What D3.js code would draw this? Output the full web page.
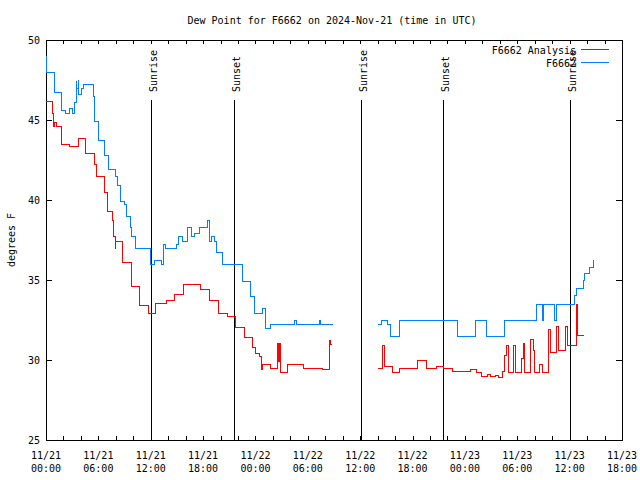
<!DOCTYPE html>
<html><head><meta charset="utf-8">
<script src="https://cdn.jsdelivr.net/npm/d3@7"></script>
<style>
body{margin:0;background:#fff}
text{font-family:"DejaVu Sans Mono","Liberation Mono",monospace;font-size:10px;fill:#000}
</style>
</head><body>
<svg id="c" width="640" height="480"></svg>
<script>
// hours since 2024-11-21 00:00 UTC
const analysisT1 = [0,0.72,0.84,1.03,1.23,1.72,2.67,3.7,4.58,5.53,5.73,6.7,7.02,7.64,7.79,7.91,8.02,8.79,9.82,10.77,11.72,12.6,13.83,14.78,15.73,17.65,18.71,19.74,20.77,21.66,22.69,23.68,23.95,24.52,24.72,24.83,25.67,26.5,26.62,26.73,26.85,27.65,29.56,31.7,32.54,32.65,32.8];
const analysisV1 = [46.15,45.4,44.6,44.85,44.6,43.45,43.35,43.85,42.9,42.2,41.45,40.5,39.3,38.75,37.7,36.98,37.4,36.1,34.6,33.4,32.9,33.55,33.75,34.1,34.7,34.4,33.75,32.9,32.75,32.05,31.4,30.8,30.4,30.2,29.4,29.7,29.5,31.05,29.9,31.05,29.2,29.7,29.5,29.4,31.2,31.0,31.0];
const analysisT2 = [38.08,38.58,38.73,38.84,39.65,40.56,42.55,43.63,44.77,45.53,46.6,48.66,49.35,49.92,50.61,50.88,51.45,51.8,52.33,52.48,52.71,52.97,53.55,53.8,54.43,54.7,54.81,55.54,55.81,55.92,56.53,56.84,57.56,57.83,58.52,58.75,59.47,59.74,60.73,60.9,61.65];
const analysisV2 = [29.5,30.9,30.2,29.6,29.2,29.5,30.0,29.5,29.6,29.5,29.3,29.4,29.2,29.0,29.1,28.95,29.05,28.9,29.3,30.3,30.9,29.25,30.9,29.25,30.1,31.05,29.25,31.3,30.6,29.25,29.7,29.25,31.9,30.5,32.1,30.6,32.1,30.9,33.45,31.55,31.55];

const obsT1 = [0,0.1,0.97,1.83,2.29,2.64,2.98,3.21,3.44,3.55,3.67,3.78,4.07,4.35,5.39,5.61,6.07,6.65,7.14,8.02,8.17,8.56,8.94,9.17,9.63,9.82,10.28,12.03,12.38,13.26,13.44,13.64,15.01,15.16,15.66,16.19,16.7,17.07,17.57,18.48,18.71,18.99,19.25,19.48,20.2,22.54,23.38,23.87,24.83,25.1,25.67,28.53,28.65,31.32,31.45,32.83];
const obsV1 = [49,48,46.7,45.6,45.4,45.75,45.4,46.1,47.4,47.0,47.5,46.6,47.0,47.25,46.5,44.9,43.75,42.8,41.9,41.45,40.9,39.9,39.7,38.95,38.3,37.7,37.0,35.95,36.25,35.95,37.2,37.0,37.2,37.7,37.4,38.3,37.7,37.9,38.3,38.7,37.4,37.7,37.4,36.7,35.95,34.9,33.95,32.9,33.2,32.0,32.25,32.45,32.25,32.45,32.25,32.25];
const obsT2 = [38.08,38.47,39.11,39.42,39.8,40.56,47.1,49.24,50.42,52.54,56.15,56.9,57.0,58.21,58.55,60.61,60.81,61.57,61.76,62.33,62.68,62.8];
const obsV2 = [32.25,32.45,32.25,31.45,31.5,32.45,31.5,32.45,31.5,32.45,33.5,32.5,33.5,32.5,33.5,34.06,34.5,35.0,35.4,35.8,36.25,36.25];

const sunT = [12.1, 21.58, 36.17, 45.52, 60.12];
const sunLabels = ["Sunrise","Sunset","Sunrise","Sunset","Sunrise"];
const yTicks = [25,30,35,40,45,50];
const seriesNames = ["F6662 Analysis","F6662"];
const seriesColors = ["#ff0000","#0080ff"];
const title = "Dew Point for F6662 on 2024-Nov-21 (time in UTC)";
const yLabel = "degrees F";

const start = Date.UTC(2024,10,21);
const toDate = h => new Date(start + h*3600e3);
const svg = d3.select("#c");
const L=46,R=622,T=40,B=440;
const x = d3.scaleUtc().domain([toDate(0), toDate(66)]).range([L,R]);
const y = d3.scaleLinear().domain([25,50]).range([B,T]);

// axes ticks
const tickHours = d3.utcHour.every(2).range(toDate(0), toDate(66.01));
const labelHours = d3.utcHour.every(6).range(toDate(0), toDate(66.01));
svg.append("g").attr("transform",`translate(0,${B})`)
  .call(d3.axisBottom(x).tickValues(tickHours).tickSize(-4).tickFormat(""))
  .call(g=>g.select(".domain").remove());
svg.append("g").attr("transform",`translate(0,${T})`)
  .call(d3.axisTop(x).tickValues(tickHours).tickSize(-4).tickFormat(""))
  .call(g=>g.select(".domain").remove());
svg.append("g").attr("transform",`translate(${L},0)`)
  .call(d3.axisLeft(y).tickValues(yTicks).tickSize(-6).tickPadding(6).tickFormat(d3.format("d")))
  .call(g=>g.select(".domain").remove())
  .call(g=>g.selectAll("text").attr("font-family",null).attr("font-size",null).attr("dy","0.35em"));
svg.append("g").attr("transform",`translate(${R},0)`)
  .call(d3.axisRight(y).tickValues(yTicks).tickSize(-6).tickFormat(""))
  .call(g=>g.select(".domain").remove());
svg.selectAll(".tick line").attr("stroke","#000").attr("shape-rendering","crispEdges");

// x labels
const fmtD = d3.utcFormat("%m/%d"), fmtH = d3.utcFormat("%H:%M");
const xl = svg.append("g").selectAll("text").data(labelHours).join("text")
  .attr("text-anchor","middle").attr("x",d=>x(d));
xl.append("tspan").attr("x",d=>x(d)).attr("y",459).text(fmtD);
xl.append("tspan").attr("x",d=>x(d)).attr("y",472).text(fmtH);

// border
svg.append("rect").attr("x",L).attr("y",T).attr("width",R-L).attr("height",B-T)
  .attr("fill","none").attr("stroke","#000").attr("shape-rendering","crispEdges");

// sun lines
const sg = svg.append("g");
sunT.forEach((t,i)=>{
  const px = x(toDate(t));
  sg.append("line").attr("x1",px).attr("x2",px).attr("y1",100).attr("y2",B)
    .attr("stroke","#000").attr("shape-rendering","crispEdges");
  sg.append("text").attr("transform",`translate(${px+5.5},92) rotate(-90)`)
    .attr("text-anchor","start").text(sunLabels[i]);
});

// series
const line = d3.line().x(d=>x(toDate(d[0]))).y(d=>y(d[1])).curve(d3.curveStepAfter);
const segs = [
  [[analysisT1,analysisV1],[analysisT2,analysisV2]],
  [[obsT1,obsV1],[obsT2,obsV2]]
];
segs.forEach((s,i)=>{
  s.forEach(([ts,vs])=>{
    svg.append("path").datum(ts.map((t,j)=>[t,vs[j]]))
      .attr("d",line).attr("fill","none").attr("stroke",seriesColors[i])
      .attr("stroke-width",1).attr("shape-rendering","crispEdges");
  });
});

// legend
seriesNames.forEach((n,i)=>{
  const ly = 49.5 + i*13;
  svg.append("text").attr("x",576).attr("y",ly+4).attr("text-anchor","end").text(n);
  svg.append("line").attr("x1",581).attr("x2",609).attr("y1",ly).attr("y2",ly)
    .attr("stroke",seriesColors[i]).attr("shape-rendering","crispEdges");
});

// title & y label
svg.append("text").attr("x",332).attr("y",23.5).attr("text-anchor","middle").text(title);
svg.append("text").attr("transform","translate(15,240) rotate(-90)").attr("text-anchor","middle").text(yLabel);
</script>
</body></html>
